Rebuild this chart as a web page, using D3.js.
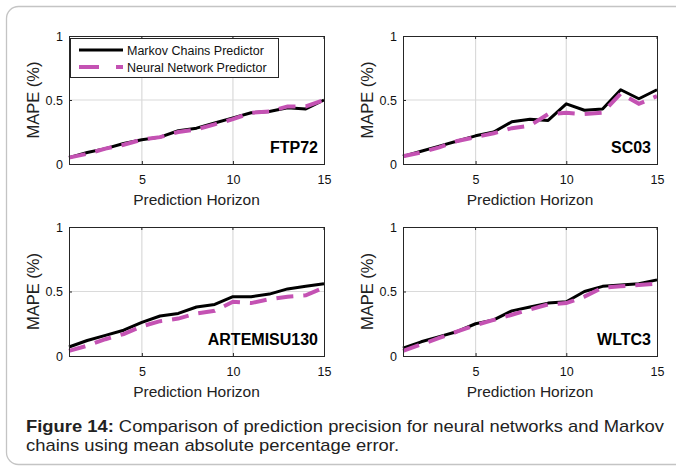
<!DOCTYPE html>
<html>
<head>
<meta charset="utf-8">
<script src="https://cdn.jsdelivr.net/npm/d3@7"></script>
<style>
  body { margin: 0; background: #fff; }
  svg { display: block; font-family: "Liberation Sans", Arial, sans-serif; }
</style>
</head>
<body>
<svg id="chart" width="676" height="471"></svg>
<script>
// data
const horizon = [1, 2, 3, 4, 5, 6, 7, 8, 9, 10, 11, 12, 13, 14, 15];
const xTicks = [5, 10, 15];
const yTicks = [0, 0.5, 1];
const cycles = ['FTP72', 'SC03', 'ARTEMISU130', 'WLTC3'];
const seriesNames = ['Markov Chains Predictor', 'Neural Network Predictor'];

const markovFTP72 = [0.05, 0.09, 0.12, 0.16, 0.19, 0.21, 0.26, 0.28, 0.32, 0.36, 0.40, 0.41, 0.44, 0.43, 0.50];
const neuralFTP72 = [0.05, 0.08, 0.12, 0.15, 0.19, 0.21, 0.25, 0.27, 0.31, 0.35, 0.40, 0.41, 0.45, 0.45, 0.50];

const markovSC03 = [0.06, 0.10, 0.14, 0.18, 0.22, 0.25, 0.33, 0.35, 0.34, 0.47, 0.42, 0.43, 0.58, 0.51, 0.58];
const neuralSC03 = [0.06, 0.09, 0.13, 0.18, 0.21, 0.24, 0.28, 0.30, 0.39, 0.40, 0.39, 0.40, 0.55, 0.47, 0.53];

const markovARTEMISU130 = [0.07, 0.12, 0.16, 0.20, 0.26, 0.31, 0.33, 0.38, 0.40, 0.46, 0.46, 0.48, 0.52, 0.54, 0.56];
const neuralARTEMISU130 = [0.04, 0.08, 0.13, 0.17, 0.23, 0.27, 0.29, 0.33, 0.35, 0.42, 0.41, 0.44, 0.46, 0.47, 0.53];

const markovWLTC3 = [0.06, 0.11, 0.15, 0.19, 0.25, 0.28, 0.35, 0.38, 0.41, 0.42, 0.50, 0.54, 0.55, 0.56, 0.59];
const neuralWLTC3 = [0.04, 0.09, 0.14, 0.19, 0.24, 0.28, 0.32, 0.36, 0.40, 0.41, 0.46, 0.53, 0.54, 0.55, 0.56];

const markovSeries = [markovFTP72, markovSC03, markovARTEMISU130, markovWLTC3];
const neuralSeries = [neuralFTP72, neuralSC03, neuralARTEMISU130, neuralWLTC3];

// layout of the 2x2 grid (axes boxes in px)
const boxes = [
  {left: 69, right: 324, top: 36, bottom: 164},
  {left: 403, right: 657, top: 36, bottom: 164},
  {left: 69, right: 324, top: 227, bottom: 356},
  {left: 403, right: 657, top: 227, bottom: 356}
];

const black = '#000';
const magenta = '#c452b3';
const gridColor = '#dadada';
const axisColor = '#262626';

const svg = d3.select('#chart');

// outer rounded frame
svg.append('rect')
  .attr('x', 6.5).attr('y', 6.5)
  .attr('width', 700).attr('height', 458)
  .attr('rx', 12)
  .attr('fill', 'none')
  .attr('stroke', '#c4c4c4')
  .attr('stroke-width', 1.3);

cycles.forEach((name, i) => {
  const b = boxes[i];
  const x = d3.scaleLinear().domain([1, 15]).range([b.left, b.right]);
  const y = d3.scaleLinear().domain([0, 1]).range([b.bottom, b.top]);
  const g = svg.append('g');

  // grid
  g.selectAll('line.gx').data(xTicks.filter(t => t < 15)).enter().append('line')
    .attr('x1', d => x(d)).attr('x2', d => x(d))
    .attr('y1', b.top).attr('y2', b.bottom)
    .attr('stroke', gridColor).attr('stroke-width', 1.2);
  g.selectAll('line.gy').data([0.5]).enter().append('line')
    .attr('y1', d => y(d)).attr('y2', d => y(d))
    .attr('x1', b.left).attr('x2', b.right)
    .attr('stroke', gridColor).attr('stroke-width', 1.2);

  // axes (d3 axes, inward ticks like MATLAB)
  const xAxis = d3.axisBottom(x).tickValues(xTicks).tickSizeInner(-3).tickSizeOuter(0).tickPadding(9);
  const yAxis = d3.axisLeft(y).tickValues(yTicks).tickSizeInner(-3).tickSizeOuter(0).tickPadding(6)
    .tickFormat(d3.format('~g'));

  const gx = g.append('g').attr('transform', `translate(0,${b.bottom})`).call(xAxis);
  const gy = g.append('g').attr('transform', `translate(${b.left},0)`).call(yAxis);
  [gx, gy].forEach(ax => {
    ax.select('.domain').remove();
    ax.selectAll('line').attr('stroke', axisColor);
    ax.selectAll('text').attr('fill', '#111').style('font-size', '12.5px')
      .style('font-family', '"Liberation Sans", Arial, sans-serif');
  });
  gx.selectAll('text').attr('dy', '0.9em');

  // top ticks
  g.selectAll('line.tt').data(xTicks).enter().append('line')
    .attr('x1', d => x(d)).attr('x2', d => x(d))
    .attr('y1', b.top).attr('y2', b.top + 3)
    .attr('stroke', axisColor);

  // lines
  const line = d3.line().x((d, k) => x(horizon[k])).y(d => y(d));
  g.append('path').datum(markovSeries[i])
    .attr('d', line).attr('fill', 'none')
    .attr('stroke', black).attr('stroke-width', 3)
    .attr('stroke-linejoin', 'round');
  g.append('path').datum(neuralSeries[i])
    .attr('d', line).attr('fill', 'none')
    .attr('stroke', magenta).attr('stroke-width', 4)
    .attr('stroke-dasharray', '17,10');

  // box
  g.append('rect')
    .attr('x', b.left + 0.5).attr('y', b.top + 0.5)
    .attr('width', b.right - b.left).attr('height', b.bottom - b.top)
    .attr('fill', 'none').attr('stroke', axisColor).attr('stroke-width', 1);

  // cycle name
  g.append('text')
    .attr('x', b.right - 6).attr('y', b.bottom - 11)
    .attr('text-anchor', 'end')
    .style('font-size', '16px').style('font-weight', 'bold')
    .text(name);

  // axis titles
  g.append('text')
    .attr('x', (b.left + b.right) / 2).attr('y', b.bottom + 41)
    .attr('text-anchor', 'middle')
    .style('font-size', '15.5px').attr('fill', '#222')
    .text('Prediction Horizon');
  g.append('text')
    .attr('transform', `translate(${b.left - 30},${(b.top + b.bottom) / 2}) rotate(-90)`)
    .attr('text-anchor', 'middle')
    .style('font-size', '16.5px').attr('fill', '#222')
    .text('MAPE (%)');

  // legend only in first panel
  if (i === 0) {
    const lg = g.append('g');
    lg.append('rect')
      .attr('x', 70.5).attr('y', 38.5).attr('width', 208).attr('height', 39)
      .attr('fill', '#fff').attr('stroke', axisColor).attr('stroke-width', 1);
    const items = [
      {label: seriesNames[0], color: black, width: 3, dash: null, yy: 50},
      {label: seriesNames[1], color: magenta, width: 4, dash: '20,17', yy: 67}
    ];
    items.forEach(it => {
      lg.append('line')
        .attr('x1', 79).attr('x2', 123).attr('y1', it.yy).attr('y2', it.yy)
        .attr('stroke', it.color).attr('stroke-width', it.width)
        .attr('stroke-dasharray', it.dash);
      lg.append('text')
        .attr('x', 127).attr('y', it.yy + 5)
        .style('font-size', '12.5px').attr('fill', '#111')
        .text(it.label);
    });
  }
});

// caption
const cap1 = svg.append('text').attr('x', 26).attr('y', 432)
  .style('font-size', '17px').attr('fill', '#222')
  .attr('textLength', 638).attr('lengthAdjust', 'spacingAndGlyphs');
cap1.append('tspan').style('font-weight', 'bold').text('Figure 14:');
cap1.append('tspan').text(' Comparison of prediction precision for neural networks and Markov');
svg.append('text').attr('x', 26).attr('y', 451)
  .style('font-size', '17px').attr('fill', '#222')
  .attr('textLength', 373).attr('lengthAdjust', 'spacingAndGlyphs')
  .text('chains using mean absolute percentage error.');
</script>
</body>
</html>
